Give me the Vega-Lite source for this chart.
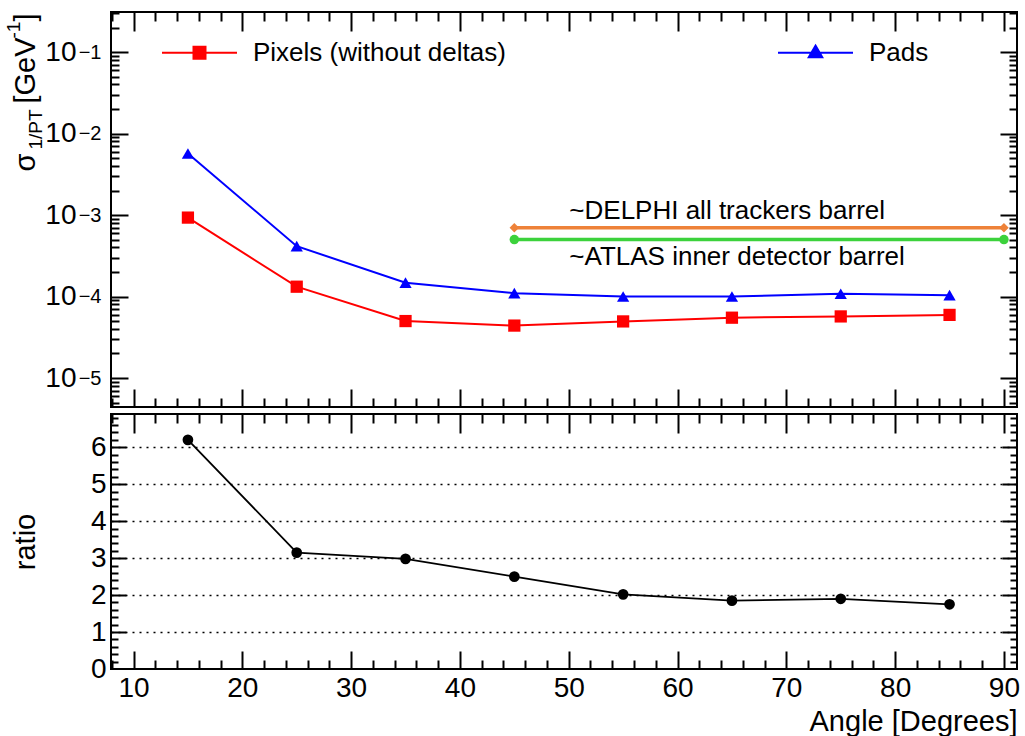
{
  "$schema": "https://vega.github.io/schema/vega-lite/v6.json",
  "background": "white",
  "padding": {"left": 3, "top": 10, "right": 5, "bottom": 0},
  "config": {
    "font": "Liberation Sans",
    "view": {"stroke": "black", "strokeWidth": 2},
    "axis": {
      "domain": false, "grid": false,
      "labelFont": "Liberation Sans", "labelColor": "black", "labelFontSize": 28,
      "labelFlush": false, "labelOverlap": false,
      "titleFont": "Liberation Sans", "titleColor": "black", "titleFontSize": 29, "titleFontWeight": "normal",
      "tickColor": "black", "tickWidth": 2
    },
    "text": {"font": "Liberation Sans"}
  },
  "datasets": {
    "sigma": [
      {"angle": 15, "series": "Pixels (without deltas)", "sigma": 0.00093},
      {"angle": 25, "series": "Pixels (without deltas)", "sigma": 0.000132},
      {"angle": 35, "series": "Pixels (without deltas)", "sigma": 0.00005},
      {"angle": 45, "series": "Pixels (without deltas)", "sigma": 0.000044},
      {"angle": 55, "series": "Pixels (without deltas)", "sigma": 0.0000495},
      {"angle": 65, "series": "Pixels (without deltas)", "sigma": 0.000055},
      {"angle": 75, "series": "Pixels (without deltas)", "sigma": 0.000057},
      {"angle": 85, "series": "Pixels (without deltas)", "sigma": 0.0000595},
      {"angle": 15, "series": "Pads", "sigma": 0.0057},
      {"angle": 25, "series": "Pads", "sigma": 0.000415},
      {"angle": 35, "series": "Pads", "sigma": 0.000148},
      {"angle": 45, "series": "Pads", "sigma": 0.00011},
      {"angle": 55, "series": "Pads", "sigma": 0.0001},
      {"angle": 65, "series": "Pads", "sigma": 0.0001},
      {"angle": 75, "series": "Pads", "sigma": 0.000108},
      {"angle": 85, "series": "Pads", "sigma": 0.000104}
    ],
    "reference": [
      {"label": "DELPHI", "name": "~DELPHI all trackers barrel", "angle": 45, "sigma": 0.0007},
      {"label": "DELPHI", "name": "~DELPHI all trackers barrel", "angle": 90, "sigma": 0.0007},
      {"label": "ATLAS", "name": "~ATLAS inner detector barrel", "angle": 45, "sigma": 0.0005},
      {"label": "ATLAS", "name": "~ATLAS inner detector barrel", "angle": 90, "sigma": 0.0005}
    ],
    "ratio": [
      {"angle": 15, "ratio": 6.2},
      {"angle": 25, "ratio": 3.15},
      {"angle": 35, "ratio": 2.98},
      {"angle": 45, "ratio": 2.5},
      {"angle": 55, "ratio": 2.02},
      {"angle": 65, "ratio": 1.85},
      {"angle": 75, "ratio": 1.9},
      {"angle": 85, "ratio": 1.75}
    ]
  },
  "spacing": 7,
  "bounds": "flush",
  "vconcat": [
    {
      "width": 906,
      "height": 395,
      "resolve": {"axis": {"x": "independent", "y": "independent"}},
      "layer": [
        {
          "data": {"name": "sigma"},
          "mark": {"type": "line", "strokeWidth": 2},
          "encoding": {
            "x": {
              "field": "angle", "type": "quantitative",
              "scale": {"domain": [7.93, 91.2], "nice": false, "zero": false},
              "axis": {"orient": "bottom", "values": [10, 20, 30, 40, 50, 60, 70, 80, 90], "labels": false, "tickSize": -18, "title": null}
            },
            "y": {
              "field": "sigma", "type": "quantitative",
              "scale": {"type": "log", "domain": [0.00000441, 0.31], "nice": false},
              "axis": {
                "orient": "left", "values": [0.00001, 0.0001, 0.001, 0.01, 0.1],
                "ticks": false, "tickSize": 0, "labelExpr": "'10'", "labelPadding": 35, "labelDy": 3, "labelFontSize": 28,
                "title": "σ", "titleX": -77, "titleY": 159, "titleAlign": "left", "titleBaseline": "alphabetic", "titleAngle": 270, "titleFontSize": 29
              }
            },
            "color": {
              "field": "series", "type": "nominal",
              "scale": {"domain": ["Pixels (without deltas)", "Pads"], "range": ["#ff0000", "#0000ff"]},
              "legend": {
                "orient": "none", "legendX": 50, "legendY": 2, "direction": "horizontal", "columns": 2,
                "title": null, "padding": 0, "labelFont": "Liberation Sans", "labelFontSize": 26, "labelColor": "black",
                "labelLimit": 500, "labelOffset": 15, "columnPadding": 268, "symbolSize": 5625, "symbolStrokeWidth": 2,
                "encode": {
                  "symbols": {
                    "update": {
                      "shape": {"signal": "datum.value === 'Pads' ? 'M-1,0H1M0,-0.19L0.18,0.12H-0.18Z' : 'M-1,0H1M-0.16,-0.16H0.16V0.16H-0.16Z'"},
                      "fill": {"signal": "datum.value === 'Pads' ? '#0000ff' : '#ff0000'"},
                      "stroke": {"signal": "datum.value === 'Pads' ? '#0000ff' : '#ff0000'"},
                      "strokeWidth": {"value": 2},
                      "size": {"value": 5625},
                      "opacity": {"value": 1}
                    }
                  }
                }
              }
            }
          }
        },
        {
          "data": {"name": "sigma"},
          "mark": {"type": "point", "filled": true, "size": 150, "opacity": 1},
          "encoding": {
            "x": {
              "field": "angle", "type": "quantitative",
              "axis": {"orient": "bottom", "values": [8, 12, 14, 16, 18, 22, 24, 26, 28, 32, 34, 36, 38, 42, 44, 46, 48, 52, 54, 56, 58, 62, 64, 66, 68, 72, 74, 76, 78, 82, 84, 86, 88], "labels": false, "tickSize": -9, "title": null}
            },
            "y": {
              "field": "sigma", "type": "quantitative",
              "axis": {
                "orient": "left", "values": [0.00001, 0.0001, 0.001, 0.01, 0.1],
                "ticks": false, "tickSize": 0, "labelExpr": "'−' + round(-log(datum.value) / LN10)", "labelPadding": 10, "labelDy": -7, "labelFontSize": 20,
                "title": "1/PT", "titleX": -70, "titleY": 137, "titleAlign": "left", "titleBaseline": "alphabetic", "titleAngle": 270, "titleFontSize": 19
              }
            },
            "fill": {
              "field": "series", "type": "nominal",
              "scale": {"domain": ["Pixels (without deltas)", "Pads", "DELPHI", "ATLAS"], "range": ["#ff0000", "#0000ff", "#ee8239", "#3cd23c"]},
              "legend": null
            },
            "shape": {
              "field": "series", "type": "nominal",
              "scale": {"domain": ["Pixels (without deltas)", "Pads", "DELPHI", "ATLAS"], "range": ["square", "triangle-up", "diamond", "circle"]},
              "legend": null
            }
          }
        },
        {
          "data": {"name": "reference"},
          "mark": {"type": "line", "strokeWidth": 3.5},
          "encoding": {
            "x": {
              "field": "angle", "type": "quantitative",
              "axis": {"orient": "top", "values": [10, 20, 30, 40, 50, 60, 70, 80, 90], "labels": false, "tickSize": -19, "title": null}
            },
            "y": {
              "field": "sigma", "type": "quantitative",
              "axis": {
                "orient": "left",
                "values": [0.000005, 0.000006, 0.000007, 0.000008, 0.000009, 0.00002, 0.00003, 0.00004, 0.00005, 0.00006, 0.00007, 0.00008, 0.00009, 0.0002, 0.0003, 0.0004, 0.0005, 0.0006, 0.0007, 0.0008, 0.0009, 0.002, 0.003, 0.004, 0.005, 0.006, 0.007, 0.008, 0.009, 0.02, 0.03, 0.04, 0.05, 0.06, 0.07, 0.08, 0.09, 0.2, 0.3],
                "labels": false, "tickSize": -8,
                "title": "[GeV", "titleX": -77, "titleY": 91, "titleAlign": "left", "titleBaseline": "alphabetic", "titleAngle": 270, "titleFontSize": 29
              }
            },
            "stroke": {
              "field": "label", "type": "nominal",
              "scale": {"domain": ["DELPHI", "ATLAS"], "range": ["#ee8239", "#3cd23c"]},
              "legend": null
            }
          }
        },
        {
          "data": {"name": "reference"},
          "mark": {"type": "point", "filled": true, "size": 90, "opacity": 1},
          "encoding": {
            "x": {
              "field": "angle", "type": "quantitative",
              "axis": {"orient": "top", "values": [8, 12, 14, 16, 18, 22, 24, 26, 28, 32, 34, 36, 38, 42, 44, 46, 48, 52, 54, 56, 58, 62, 64, 66, 68, 72, 74, 76, 78, 82, 84, 86, 88], "labels": false, "tickSize": -9, "title": null}
            },
            "y": {
              "field": "sigma", "type": "quantitative",
              "axis": {
                "orient": "right", "values": [0.00001, 0.0001, 0.001, 0.01, 0.1], "labels": false, "tickSize": -17,
                "title": "-1", "titleX": -998, "titleY": 26, "titleAlign": "left", "titleBaseline": "alphabetic", "titleAngle": 270, "titleFontSize": 19
              }
            },
            "fill": {"field": "label", "type": "nominal", "legend": null},
            "shape": {"field": "label", "type": "nominal", "legend": null}
          }
        },
        {
          "data": {"name": "reference"},
          "transform": [{"filter": "datum.label === 'DELPHI' && datum.angle === 45"}],
          "mark": {"type": "text", "align": "left", "baseline": "middle", "dx": 55, "dy": -17, "fontSize": 26, "font": "Liberation Sans", "color": "black"},
          "encoding": {
            "x": {"field": "angle", "type": "quantitative", "axis": null},
            "y": {
              "field": "sigma", "type": "quantitative",
              "axis": {
                "orient": "right",
                "values": [0.000005, 0.000006, 0.000007, 0.000008, 0.000009, 0.00002, 0.00003, 0.00004, 0.00005, 0.00006, 0.00007, 0.00008, 0.00009, 0.0002, 0.0003, 0.0004, 0.0005, 0.0006, 0.0007, 0.0008, 0.0009, 0.002, 0.003, 0.004, 0.005, 0.006, 0.007, 0.008, 0.009, 0.02, 0.03, 0.04, 0.05, 0.06, 0.07, 0.08, 0.09, 0.2, 0.3],
                "labels": false, "tickSize": -8,
                "title": "]", "titleX": -983, "titleY": 9, "titleAlign": "left", "titleBaseline": "alphabetic", "titleAngle": 270, "titleFontSize": 29
              }
            },
            "text": {"field": "name"}
          }
        },
        {
          "data": {"name": "reference"},
          "transform": [{"filter": "datum.label === 'ATLAS' && datum.angle === 45"}],
          "mark": {"type": "text", "align": "left", "baseline": "middle", "dx": 55, "dy": 17, "fontSize": 26, "font": "Liberation Sans", "color": "black"},
          "encoding": {
            "x": {"field": "angle", "type": "quantitative", "axis": null},
            "y": {
              "field": "sigma", "type": "quantitative",
              "axis": {"orient": "left", "values": [0.00001, 0.0001, 0.001, 0.01, 0.1], "labels": false, "tickSize": -17, "title": null}
            },
            "text": {"field": "name"}
          }
        }
      ]
    },
    {
      "width": 906,
      "height": 255,
      "data": {"name": "ratio"},
      "resolve": {"axis": {"x": "independent", "y": "independent"}},
      "layer": [
        {
          "mark": {"type": "line", "strokeWidth": 1.8, "color": "black"},
          "encoding": {
            "x": {
              "field": "angle", "type": "quantitative",
              "scale": {"domain": [7.93, 91.2], "nice": false, "zero": false},
              "axis": {
                "orient": "bottom", "values": [10, 20, 30, 40, 50, 60, 70, 80, 90], "ticks": false, "tickSize": 0,
                "labelPadding": 5, "labelFontSize": 28,
                "title": "Angle [Degrees]", "titleX": 906, "titleY": 61, "titleAlign": "right", "titleAnchor": "end", "titleBaseline": "alphabetic", "titleFontSize": 29
              }
            },
            "y": {
              "field": "ratio", "type": "quantitative",
              "scale": {"domain": [0, 6.9], "nice": false, "zero": false},
              "axis": {
                "orient": "left", "values": [0, 1, 2, 3, 4, 5, 6], "ticks": false, "tickSize": 0, "labelPadding": 5, "labelFontSize": 28,
                "title": "ratio", "titleX": -77, "titleY": 127.5, "titleAlign": "center", "titleBaseline": "alphabetic", "titleAngle": 270, "titleFontSize": 29
              }
            }
          }
        },
        {
          "mark": {"type": "point", "filled": true, "size": 115, "opacity": 1, "color": "black"},
          "encoding": {
            "x": {
              "field": "angle", "type": "quantitative",
              "axis": {"orient": "bottom", "values": [10, 20, 30, 40, 50, 60, 70, 80, 90], "labels": false, "tickSize": -18, "title": null}
            },
            "y": {
              "field": "ratio", "type": "quantitative",
              "axis": {"orient": "left", "values": [1, 2, 3, 4, 5, 6], "labels": false, "tickSize": -15, "title": null,
                       "grid": true, "gridColor": "black", "gridDash": [2, 5], "gridWidth": 1.5, "gridOpacity": 1}
            }
          }
        },
        {
          "mark": {"type": "point", "opacity": 0},
          "encoding": {
            "x": {
              "field": "angle", "type": "quantitative",
              "axis": {"orient": "bottom", "values": [8, 12, 14, 16, 18, 22, 24, 26, 28, 32, 34, 36, 38, 42, 44, 46, 48, 52, 54, 56, 58, 62, 64, 66, 68, 72, 74, 76, 78, 82, 84, 86, 88], "labels": false, "tickSize": -9, "title": null}
            },
            "y": {
              "field": "ratio", "type": "quantitative",
              "axis": {"orient": "left", "values": [0.2, 0.4, 0.6, 0.8, 1.2, 1.4, 1.6, 1.8, 2.2, 2.4, 2.6, 2.8, 3.2, 3.4, 3.6, 3.8, 4.2, 4.4, 4.6, 4.8, 5.2, 5.4, 5.6, 5.8, 6.2, 6.4, 6.6, 6.8], "labels": false, "tickSize": -7, "title": null}
            }
          }
        },
        {
          "mark": {"type": "point", "opacity": 0},
          "encoding": {
            "x": {
              "field": "angle", "type": "quantitative",
              "axis": {"orient": "top", "values": [10, 20, 30, 40, 50, 60, 70, 80, 90], "labels": false, "tickSize": -19, "title": null}
            },
            "y": {
              "field": "ratio", "type": "quantitative",
              "axis": {"orient": "right", "values": [1, 2, 3, 4, 5, 6], "labels": false, "tickSize": -15, "title": null}
            }
          }
        },
        {
          "mark": {"type": "point", "opacity": 0},
          "encoding": {
            "x": {
              "field": "angle", "type": "quantitative",
              "axis": {"orient": "top", "values": [8, 12, 14, 16, 18, 22, 24, 26, 28, 32, 34, 36, 38, 42, 44, 46, 48, 52, 54, 56, 58, 62, 64, 66, 68, 72, 74, 76, 78, 82, 84, 86, 88], "labels": false, "tickSize": -9, "title": null}
            },
            "y": {
              "field": "ratio", "type": "quantitative",
              "axis": {"orient": "right", "values": [0.2, 0.4, 0.6, 0.8, 1.2, 1.4, 1.6, 1.8, 2.2, 2.4, 2.6, 2.8, 3.2, 3.4, 3.6, 3.8, 4.2, 4.4, 4.6, 4.8, 5.2, 5.4, 5.6, 5.8, 6.2, 6.4, 6.6, 6.8], "labels": false, "tickSize": -7, "title": null}
            }
          }
        }
      ]
    }
  ]
}
